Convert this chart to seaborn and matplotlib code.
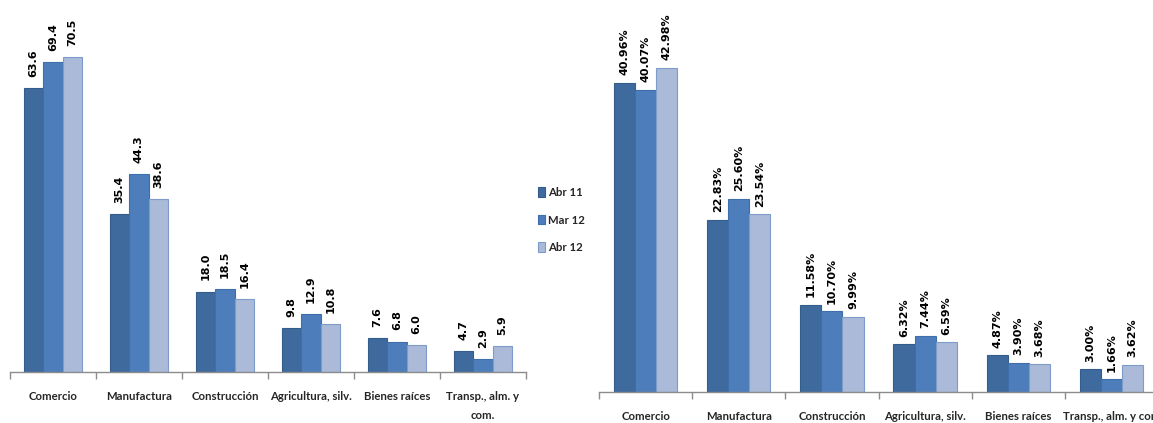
import matplotlib
matplotlib.use("Agg")
import matplotlib.pyplot as plt
import seaborn as sns
import pandas as pd
import numpy as np

sns.set_theme(style="white")
plt.rcParams["font.family"] = ["DejaVu Sans"]

# Sectors and series
cats_left = ["Comercio", "Manufactura", "Construcción", "Agricultura, silv.",
             "Bienes raíces", "Transp., alm. y\ncom."]
cats_right = ["Comercio", "Manufactura", "Construcción", "Agricultura, silv.",
              "Bienes raíces", "Transp., alm. y com"]
series = ["Abr 11", "Mar 12", "Abr 12"]

# Amounts
abr11_amt = [63.6, 35.4, 18.0, 9.8, 7.6, 4.7]
mar12_amt = [69.4, 44.3, 18.5, 12.9, 6.8, 2.9]
abr12_amt = [70.5, 38.6, 16.4, 10.8, 6.0, 5.9]

# Shares (%)
abr11_pct = [40.96, 22.83, 11.58, 6.32, 4.87, 3.00]
mar12_pct = [40.07, 25.60, 10.70, 7.44, 3.90, 1.66]
abr12_pct = [42.98, 23.54, 9.99, 6.59, 3.68, 3.62]

colors = ["#3F6A9E", "#4D7EBB", "#AABAD8"]
edges = ["#355D8C", "#3F6FAA", "#7E9CC9"]

label_font = ["Lato", "DejaVu Sans"]


def long_frame(cats, a, b, c):
    rows = []
    for s, vals in zip(series, (a, b, c)):
        for cat, v in zip(cats, vals):
            rows.append({"cat": cat, "serie": s, "valor": v})
    return pd.DataFrame(rows)


def draw(ax, cats, a, b, c, ymax, fmt, offset, label_size):
    df = long_frame(cats, a, b, c)
    sns.barplot(data=df, x="cat", y="valor", hue="serie", order=cats,
                hue_order=series, palette=colors, width=0.68, gap=0,
                saturation=1, legend=False, ax=ax)
    for i, cont in enumerate(ax.containers):
        for patch in cont:
            patch.set_edgecolor(edges[i])
            patch.set_linewidth(0.8)
        ax.bar_label(cont, labels=[fmt.format(v) for v in cont.datavalues],
                     rotation=90, padding=offset, fontsize=label_size,
                     fontweight="bold", color="#000000")
    ax.set_xlim(-0.5, len(cats) - 0.5)
    ax.set_ylim(0, ymax)
    ax.set_xlabel("")
    ax.set_ylabel("")
    ax.set_yticks([])
    for s in ("top", "right", "left"):
        ax.spines[s].set_visible(False)
    ax.spines["bottom"].set_color("#8C8C8C")
    ax.spines["bottom"].set_linewidth(1.0)
    # boundary ticks, labels centred under each group
    ax.set_xticks(np.arange(len(cats) + 1) - 0.5)
    ax.set_xticklabels([])
    ax.tick_params(axis="x", which="major", direction="out", length=5,
                   width=1.0, color="#8C8C8C", bottom=True)
    ax.set_xticks(np.arange(len(cats)), minor=True)
    ax.set_xticklabels(cats, minor=True, fontsize=8.2, fontweight="bold",
                       family=label_font, linespacing=1.8)
    ax.tick_params(axis="x", which="minor", length=0, pad=14)


fig = plt.figure(figsize=(11.53, 4.23), dpi=100)
ax1 = fig.add_axes([10 / 1153, 51 / 423, 516 / 1153, 367 / 423])
ax2 = fig.add_axes([599 / 1153, 31 / 423, 559 / 1153, 387 / 423])

draw(ax1, cats_left, abr11_amt, mar12_amt, abr12_amt, 82.1, "{:.1f}", 8, 8)
draw(ax2, cats_right, abr11_pct, mar12_pct, abr12_pct, 51.3, "{:.2f}%", 5.5, 8)

handles = [plt.Rectangle((0, 0), 1, 1, facecolor=c, edgecolor=e, linewidth=0.8)
           for c, e in zip(colors, edges)]
fig.legend(handles, series, loc="center left", bbox_to_anchor=(528 / 1153, 1 - 220 / 423),
           frameon=False, handlelength=0.6, handleheight=0.9, handletextpad=0.3,
           labelspacing=1.45, prop={"family": label_font, "weight": "bold", "size": 8.2})

fig.savefig("out.png", dpi=100)
